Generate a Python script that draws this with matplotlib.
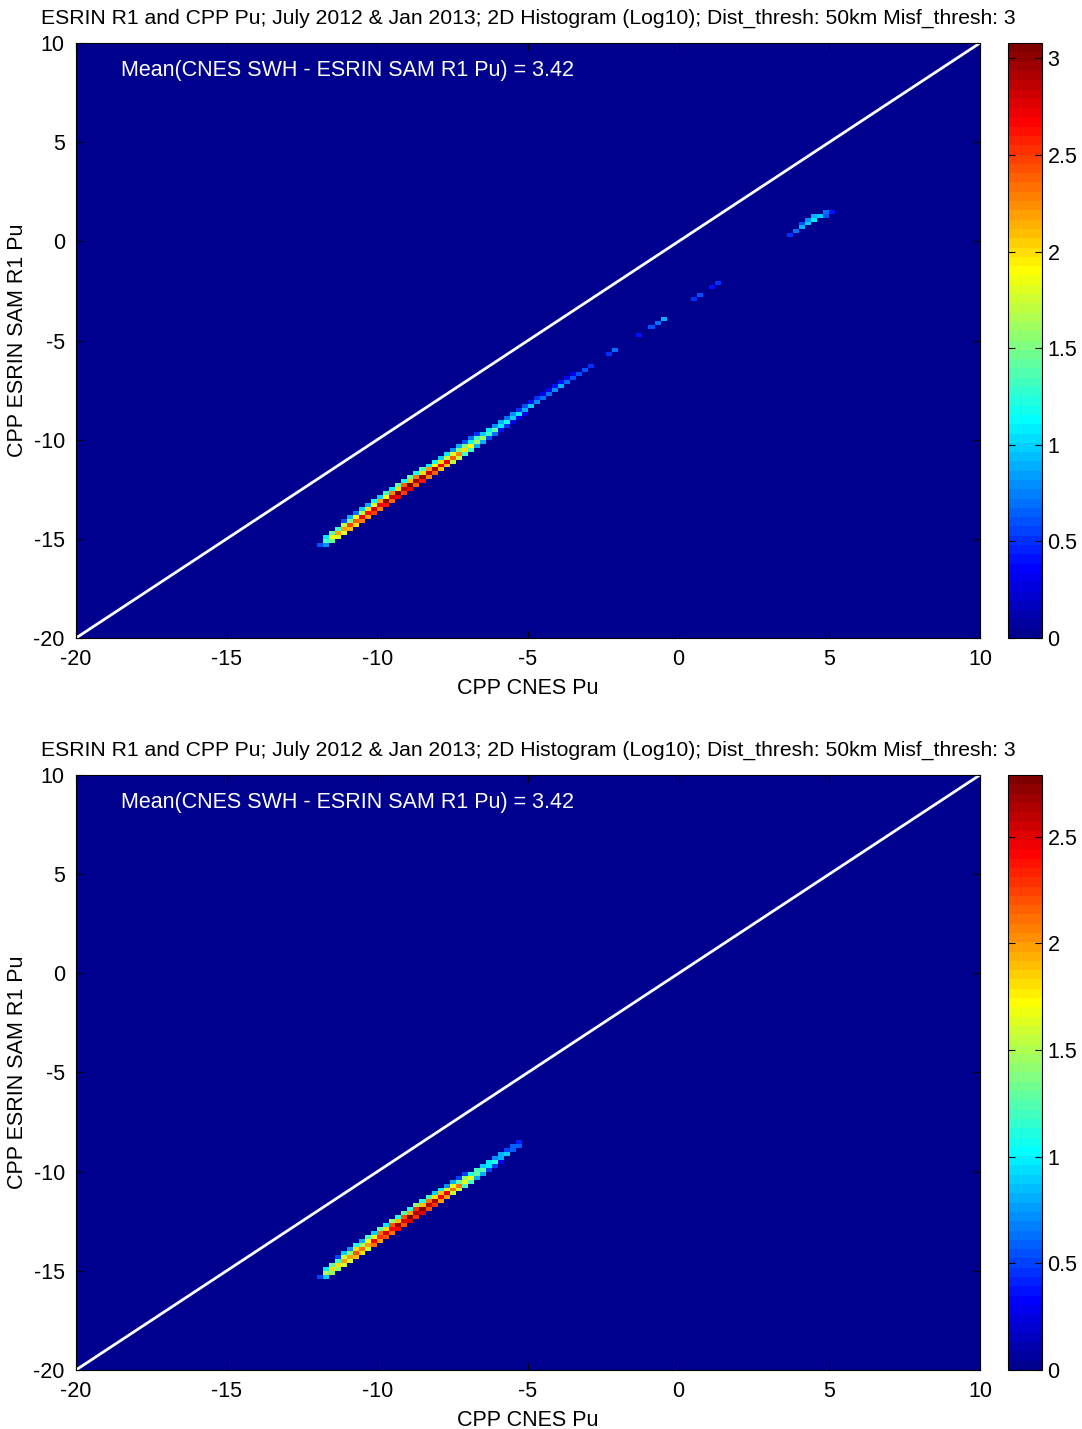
#! /bin/env python3

import matplotlib
matplotlib.use("Agg")
import matplotlib.pyplot as plt
import numpy as np
from matplotlib.colors import ListedColormap
from matplotlib.ticker import FormatStrFormatter

plt.rcParams["font.family"] = ["Liberation Sans", "DejaVu Sans"]
plt.rcParams["axes.unicode_minus"] = False

TITLE = ("ESRIN R1 and CPP Pu; July 2012 & Jan 2013; 2D Histogram (Log10); "
         "Dist_thresh: 50km Misf_thresh: 3")
MEAN_TEXT = "Mean(CNES SWH - ESRIN SAM R1 Pu) = 3.42"
X_LABEL = "CPP CNES Pu"
Y_LABEL = "CPP ESRIN SAM R1 Pu"
AXIS_TICKS = [-20, -15, -10, -5, 0, 5, 10]
FS = 15.5

# histogram grid: 0.2 wide bins on both axes
bin_edges = np.linspace(-20, 10, 151)

# diagonal offsets (ESRIN - CNES) of the rows stored in the band tables
band_offsets = [-3.0, -3.2, -3.4, -3.6]

# --- first period: log10 counts along the main band, one column per CNES bin
top_cnes = np.round(np.arange(-11.9, -2.85, 0.2), 1)
top_band = [
    [0, 0, 0, 0, 0.6, 0.9, 0.7, 1.0, 0.9, 1.2, 1.0, 1.3, 1.1, 1.4, 1.2, 1.4,
     1.2, 1.3, 1.1, 1.2, 1.0, 1.1, 0.8, 0.9, 0.6, 0.7, 0.5, 0, 0, 0, 0, 0,
     0, 0, 0, 0, 0, 0, 0, 0, 0, 0, 0, 0, 0, 0],
    [0, 1.1, 1.4, 1.3, 1.7, 1.5, 1.9, 1.7, 2.0, 1.8, 2.2, 1.9, 2.3, 2.0, 2.4,
     2.1, 2.3, 2.0, 2.2, 1.9, 2.0, 1.7, 1.8, 1.5, 1.5, 1.2, 1.3, 1.0, 1.1,
     0.8, 0.9, 0.7, 0.8, 0.5, 0.6, 0.4, 0.5, 0.3, 0.3, 0.4, 0.4, 0.3, 0.3,
     0, 0, 0],
    [0.6, 1.3, 1.9, 2.2, 2.2, 2.5, 2.4, 2.7, 2.6, 2.8, 2.7, 3.0, 2.8, 3.05,
     2.9, 3.08, 2.95, 3.0, 2.85, 2.9, 2.7, 2.7, 2.4, 2.3, 2.0, 1.9, 1.6, 1.6,
     1.3, 1.4, 1.1, 1.2, 1.0, 1.1, 0.9, 1.0, 0.8, 0.7, 0.7, 0.8, 0.9, 0.7,
     0.6, 0.6, 0.6, 0.5],
    [0, 0.8, 1.4, 1.8, 1.8, 2.1, 2.0, 2.3, 2.2, 2.5, 2.3, 2.6, 2.4, 2.7, 2.5,
     2.7, 2.4, 2.6, 2.3, 2.4, 2.1, 2.1, 1.7, 1.7, 1.3, 1.3, 0.9, 0.9, 0.6,
     0.7, 0.4, 0.5, 0.3, 0.3, 0.3, 0, 0, 0, 0, 0, 0, 0, 0, 0, 0, 0],
]
# isolated cells further up the band
top_sparse_x = [-2.3, -2.1, -1.3, -0.9, -0.7, -0.5, 0.5, 0.7, 1.1, 1.3,
                3.7, 3.9, 4.1, 4.3, 4.5, 4.7, 4.9, 4.1, 4.3, 4.5, 4.9, 5.1]
top_sparse_y = [-5.7, -5.5, -4.7, -4.3, -4.1, -3.9, -2.9, -2.7, -2.3, -2.1,
                0.3, 0.5, 0.7, 0.9, 1.1, 1.3, 1.5, 0.9, 1.1, 1.3, 1.3, 1.5]
top_sparse_v = [0.5, 0.7, 0.4, 0.6, 0.7, 0.9, 0.5, 0.6, 0.4, 0.5,
                0.5, 0.7, 0.9, 1.0, 1.1, 1.0, 0.7, 0.6, 0.8, 0.9, 0.6, 0.4]

# --- second period
bot_cnes = np.round(np.arange(-11.9, -5.25, 0.2), 1)
bot_band = [
    [0, 0, 0, 0.5, 0.9, 0.7, 1.1, 0.8, 1.2, 0.9, 1.3, 1.0, 1.4, 1.1, 1.3,
     1.1, 1.4, 1.1, 1.2, 0.9, 1.0, 0.7, 0.8, 0.5, 0.5, 0, 0, 0, 0, 0, 0, 0,
     0, 0],
    [0, 1.0, 1.3, 1.2, 1.6, 1.4, 1.8, 1.5, 1.7, 1.7, 2.1, 1.8, 2.2, 1.9, 2.2,
     2.0, 2.3, 1.9, 2.1, 1.8, 1.9, 1.6, 1.7, 1.3, 1.4, 1.1, 1.2, 0.9, 1.0,
     0.7, 0.8, 0.5, 0.6, 0.4],
    [0.5, 1.5, 1.8, 1.8, 2.0, 2.0, 2.2, 2.1, 2.0, 2.4, 2.3, 2.5, 2.4, 2.7,
     2.5, 2.75, 2.65, 2.79, 2.6, 2.65, 2.4, 2.45, 2.1, 2.1, 1.7, 1.7, 1.3,
     1.3, 1.0, 1.1, 0.8, 0.9, 0.6, 0.6],
    [0, 0.9, 1.4, 1.4, 1.6, 1.6, 1.9, 1.8, 1.6, 2.1, 2.0, 2.2, 2.1, 2.4, 2.2,
     2.5, 2.3, 2.5, 2.2, 2.3, 2.0, 2.0, 1.6, 1.6, 1.2, 1.2, 0.8, 0.8, 0.5,
     0.5, 0.3, 0, 0, 0],
]
bot_sparse_x = []
bot_sparse_y = []
bot_sparse_v = []


def matlab_jet(n=64):
    # piecewise-linear jet with the same breakpoints as the MATLAB map
    i = np.arange(n)
    r = np.interp(i, [0, 23, 39, 55, 63], [0, 0, 1, 1, 0.5])
    g = np.interp(i, [0, 7, 23, 39, 55, 63], [0, 0, 1, 1, 0, 0])
    b = np.interp(i, [0, 7, 23, 39, 63], [0.5625, 1, 1, 0, 0])
    return ListedColormap(np.column_stack([r, g, b]))


def build_grid(cnes, band, sx, sy, sv):
    xs, ys, ws = list(sx), list(sy), list(sv)
    for off, row in zip(band_offsets, band):
        for x, v in zip(cnes, row):
            if v > 0:
                xs.append(x)
                ys.append(x + off)
                ws.append(v)
    grid, _, _ = np.histogram2d(xs, ys, bins=[bin_edges, bin_edges],
                                weights=ws)
    return grid.T


def draw_panel(fig, rect, cbar_rect, grid):
    ax = fig.add_axes(rect)
    vmax = grid.max()
    mesh = ax.pcolormesh(bin_edges, bin_edges, grid, cmap=matlab_jet(),
                         vmin=0, vmax=vmax, shading="flat")
    ax.plot([-20, 10], [-20, 10], color="white", lw=2)
    ax.text(-18.5, 8.6, MEAN_TEXT, color="white", fontsize=FS,
            va="center", ha="left")
    ax.set_xlim(-20, 10)
    ax.set_ylim(-20, 10)
    ax.set_xticks(AXIS_TICKS)
    ax.set_yticks(AXIS_TICKS)
    ax.tick_params(direction="in", length=5, labelsize=FS, top=True,
                   right=True, pad=8)
    ax.set_xlabel(X_LABEL, fontsize=FS, labelpad=6)
    ax.set_ylabel(Y_LABEL, fontsize=FS)
    ax.yaxis.set_label_coords(-0.053, 0.5)
    ax.set_title(TITLE, fontsize=15.2, pad=14)
    for s in ax.spines.values():
        s.set_linewidth(0.8)

    cax = fig.add_axes(cbar_rect)
    cb = fig.colorbar(mesh, cax=cax, ticks=np.arange(0, vmax, 0.5))
    cb.ax.yaxis.set_major_formatter(FormatStrFormatter("%g"))
    cb.outline.set_linewidth(0.8)
    cax.tick_params(axis="y", direction="in", length=5, left=True,
                    right=True, labelsize=FS, pad=4)


fig = plt.figure(figsize=(10.82, 14.29), dpi=100)

top_grid = build_grid(top_cnes, top_band, top_sparse_x, top_sparse_y,
                      top_sparse_v)
bot_grid = build_grid(bot_cnes, bot_band, bot_sparse_x, bot_sparse_y,
                      bot_sparse_v)

draw_panel(fig, [0.0702, 0.5535, 0.8355, 0.4164],
           [0.9316, 0.5535, 0.0314, 0.4164], top_grid)
draw_panel(fig, [0.0702, 0.0413, 0.8355, 0.4164],
           [0.9316, 0.0413, 0.0314, 0.4164], bot_grid)

fig.savefig("out.png", dpi=100)
